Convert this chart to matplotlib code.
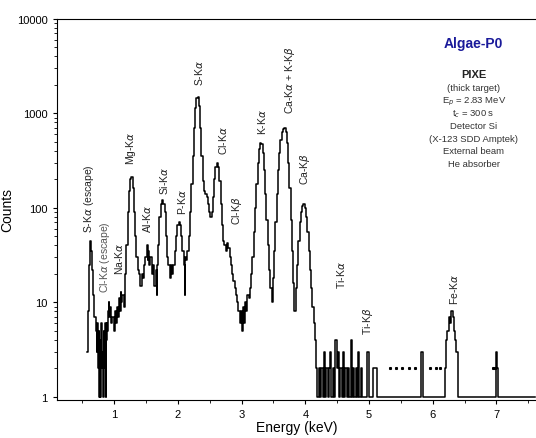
import matplotlib.pyplot as plt

plt.rcParams['font.family'] = ['Liberation Sans', 'DejaVu Sans']

# spectrum, as (energy keV, counts) pairs by region
low_region = [(0.58, 3), (0.60, 8), (0.62, 25), (0.63, 45), (0.64, 35), (0.66, 22), (0.68, 12),
              (0.70, 7), (0.72, 5), (0.73, 3), (0.74, 6), (0.75, 2), (0.76, 5), (0.77, 1),
              (0.78, 4), (0.79, 1), (0.80, 6), (0.81, 2), (0.82, 3), (0.83, 1), (0.84, 5),
              (0.85, 2), (0.86, 6), (0.87, 1), (0.88, 4), (0.89, 6), (0.90, 5), (0.91, 8),
              (0.92, 10), (0.93, 7), (0.94, 9), (0.96, 6), (0.98, 7), (1.00, 5), (1.02, 8),
              (1.04, 6), (1.05, 9), (1.06, 7), (1.08, 11), (1.10, 8), (1.11, 13), (1.12, 10),
              (1.14, 12), (1.16, 9), (1.18, 20), (1.20, 40), (1.22, 90), (1.24, 150),
              (1.26, 200), (1.28, 210), (1.30, 160), (1.32, 90), (1.34, 50), (1.36, 30),
              (1.38, 22), (1.40, 20), (1.42, 15), (1.44, 20), (1.46, 18), (1.48, 25),
              (1.50, 30), (1.52, 40), (1.53, 28), (1.54, 35), (1.56, 25), (1.58, 30),
              (1.60, 20), (1.62, 25), (1.64, 15), (1.66, 22), (1.67, 12), (1.68, 25),
              (1.70, 40), (1.72, 80), (1.74, 110), (1.76, 120), (1.78, 110), (1.80, 90),
              (1.82, 50), (1.84, 30), (1.86, 25), (1.88, 18), (1.90, 25), (1.92, 20),
              (1.94, 25), (1.96, 35), (1.98, 50), (2.00, 65), (2.02, 70), (2.04, 65),
              (2.06, 50), (2.08, 35), (2.10, 25), (2.11, 12), (2.12, 30), (2.14, 28),
              (2.16, 35), (2.18, 50), (2.20, 90)]
mid_region = [(2.22, 180), (2.24, 350), (2.26, 700), (2.28, 1150), (2.30, 1450), (2.32, 1500),
              (2.34, 1200), (2.36, 700), (2.38, 350), (2.40, 190), (2.42, 150), (2.44, 140),
              (2.46, 130), (2.48, 110), (2.50, 90), (2.52, 80), (2.54, 90), (2.56, 130),
              (2.58, 200), (2.60, 270), (2.62, 300), (2.64, 270), (2.66, 190), (2.68, 110),
              (2.70, 65), (2.72, 45), (2.74, 40), (2.76, 35), (2.78, 42), (2.80, 38),
              (2.82, 30), (2.84, 25), (2.86, 20), (2.88, 17), (2.90, 14), (2.92, 12),
              (2.94, 10), (2.96, 8), (2.98, 6), (3.00, 8), (3.02, 5), (3.03, 9), (3.04, 6),
              (3.06, 10), (3.08, 8), (3.10, 12), (3.12, 11), (3.14, 14), (3.16, 20),
              (3.18, 30), (3.20, 55), (3.22, 100), (3.24, 180), (3.26, 300), (3.28, 420),
              (3.30, 480), (3.32, 470), (3.34, 380), (3.36, 250), (3.38, 140), (3.40, 75),
              (3.42, 40), (3.44, 22), (3.46, 14), (3.48, 10), (3.50, 18), (3.52, 35),
              (3.54, 70), (3.56, 140), (3.58, 250), (3.60, 380), (3.62, 520), (3.64, 630),
              (3.66, 690), (3.68, 700), (3.70, 640), (3.72, 480), (3.74, 300), (3.76, 160),
              (3.78, 75), (3.80, 35), (3.82, 16), (3.84, 8), (3.86, 14), (3.88, 25),
              (3.90, 45), (3.92, 70), (3.94, 90), (3.96, 105), (3.98, 110), (4.00, 100),
              (4.02, 80), (4.04, 55), (4.06, 35), (4.08, 22), (4.10, 14), (4.12, 9),
              (4.14, 6), (4.16, 4), (4.18, 2)]
high_region = [(4.20, 1), (4.22, 2), (4.24, 1), (4.26, 2), (4.28, 1), (4.30, 3), (4.32, 1),
               (4.34, 2), (4.36, 1), (4.38, 2), (4.40, 3), (4.42, 1), (4.44, 2), (4.46, 1),
               (4.48, 4), (4.50, 2), (4.52, 3), (4.54, 1), (4.56, 2), (4.58, 1), (4.60, 3),
               (4.62, 1), (4.64, 2), (4.66, 1), (4.68, 2), (4.70, 1), (4.72, 4), (4.74, 1),
               (4.76, 2), (4.78, 1), (4.80, 2), (4.82, 1), (4.84, 3), (4.86, 1), (4.88, 2),
               (4.90, 1), (4.94, 1), (4.98, 3), (5.02, 1), (5.10, 2), (5.14, 1), (5.80, 1),
               (5.84, 3), (5.86, 1), (6.18, 1), (6.20, 2), (6.22, 4), (6.24, 5), (6.26, 7),
               (6.28, 6), (6.30, 8), (6.32, 7), (6.34, 5), (6.36, 4), (6.38, 3), (6.40, 1),
               (6.98, 1), (7.00, 3), (7.02, 2), (7.04, 1), (7.60, 1)]

# isolated dotted points near 2 counts
dot_e = [5.33, 5.42, 5.52, 5.62, 5.72, 5.95, 6.05, 6.12, 6.94, 6.97]
dot_c = [2, 2, 2, 2, 2, 2, 2, 2, 2, 2]

labels = ["S-K$\\alpha$ (escape)", "Cl-K$\\alpha$ (escape)", "Na-K$\\alpha$", "Mg-K$\\alpha$",
          "Al-K$\\alpha$", "Si-K$\\alpha$", "P-K$\\alpha$", "S-K$\\alpha$", "Cl-K$\\alpha$",
          "Cl-K$\\beta$", "K-K$\\alpha$", "Ca-K$\\alpha$ + K-K$\\beta$", "Ca-K$\\beta$",
          "Ti-K$\\alpha$", "Ti-K$\\beta$", "Fe-K$\\alpha$"]
label_e = [0.61, 0.85, 1.08, 1.27, 1.52, 1.78, 2.06, 2.33, 2.71, 2.92, 3.32, 3.76, 4.00,
           4.56, 4.98, 6.33]
label_c = [55, 13, 20, 290, 55, 140, 87, 2000, 375, 68, 600, 1000, 180, 14, 4.6, 9.6]
label_grey = [False, True, False, False, False, False, False, False, False, False, False,
              False, False, False, False, False]

spectrum = low_region + mid_region + high_region
energy = [p[0] for p in spectrum]
counts = [p[1] for p in spectrum]

fig = plt.figure(figsize=(5.36, 4.39), dpi=100)
ax = fig.add_axes([0.106, 0.087, 0.894, 0.868])
ax.step(energy, counts, where="mid", color="black", lw=1.1)
ax.plot(dot_e, dot_c, ls="none", marker="s", ms=1.2, color="black")

ax.set_yscale("log")
ax.set_ylim(0.93, 10000)
ax.set_xlim(0.1, 7.62)
ax.set_xticks([1, 2, 3, 4, 5, 6, 7])
ax.set_xticks([0.5, 1.5, 2.5, 3.5, 4.5, 5.5, 6.5, 7.5], minor=True)
ax.set_yticks([1, 10, 100, 1000, 10000])
ax.set_yticklabels(["1", "10", "100", "1000", "10000"])
ax.tick_params(labelsize=8, length=3)
ax.tick_params(which="minor", length=2)
ax.spines["right"].set_visible(False)
ax.set_xlabel("Energy (keV)", fontsize=10, labelpad=1)
ax.set_ylabel("Counts", fontsize=10, labelpad=2)

for t, e, c, g in zip(labels, label_e, label_c, label_grey):
    ax.text(e, c, t, rotation=90, ha="center", va="bottom", fontsize=7.5,
            color="#555555" if g else "#222222")

ax.text(0.87, 0.925, "Algae-P0", transform=ax.transAxes, ha="center", fontsize=10,
        fontweight="bold", color="#1a1a9a")
info = ["(thick target)", "E$_p$ = 2.83 MeV", "t$_c$ = 300 s", "Detector Si",
        "(X-123 SDD Amptek)", "External beam", "He absorber"]
ax.text(0.87, 0.848, "PIXE", transform=ax.transAxes, ha="center", fontsize=8,
        fontweight="bold", color="#222222")
for i, s in enumerate(info):
    ax.text(0.87, 0.812 - i * 0.033, s, transform=ax.transAxes, ha="center", fontsize=6.8,
            color="#333333")

fig.savefig("out.png", dpi=100)
